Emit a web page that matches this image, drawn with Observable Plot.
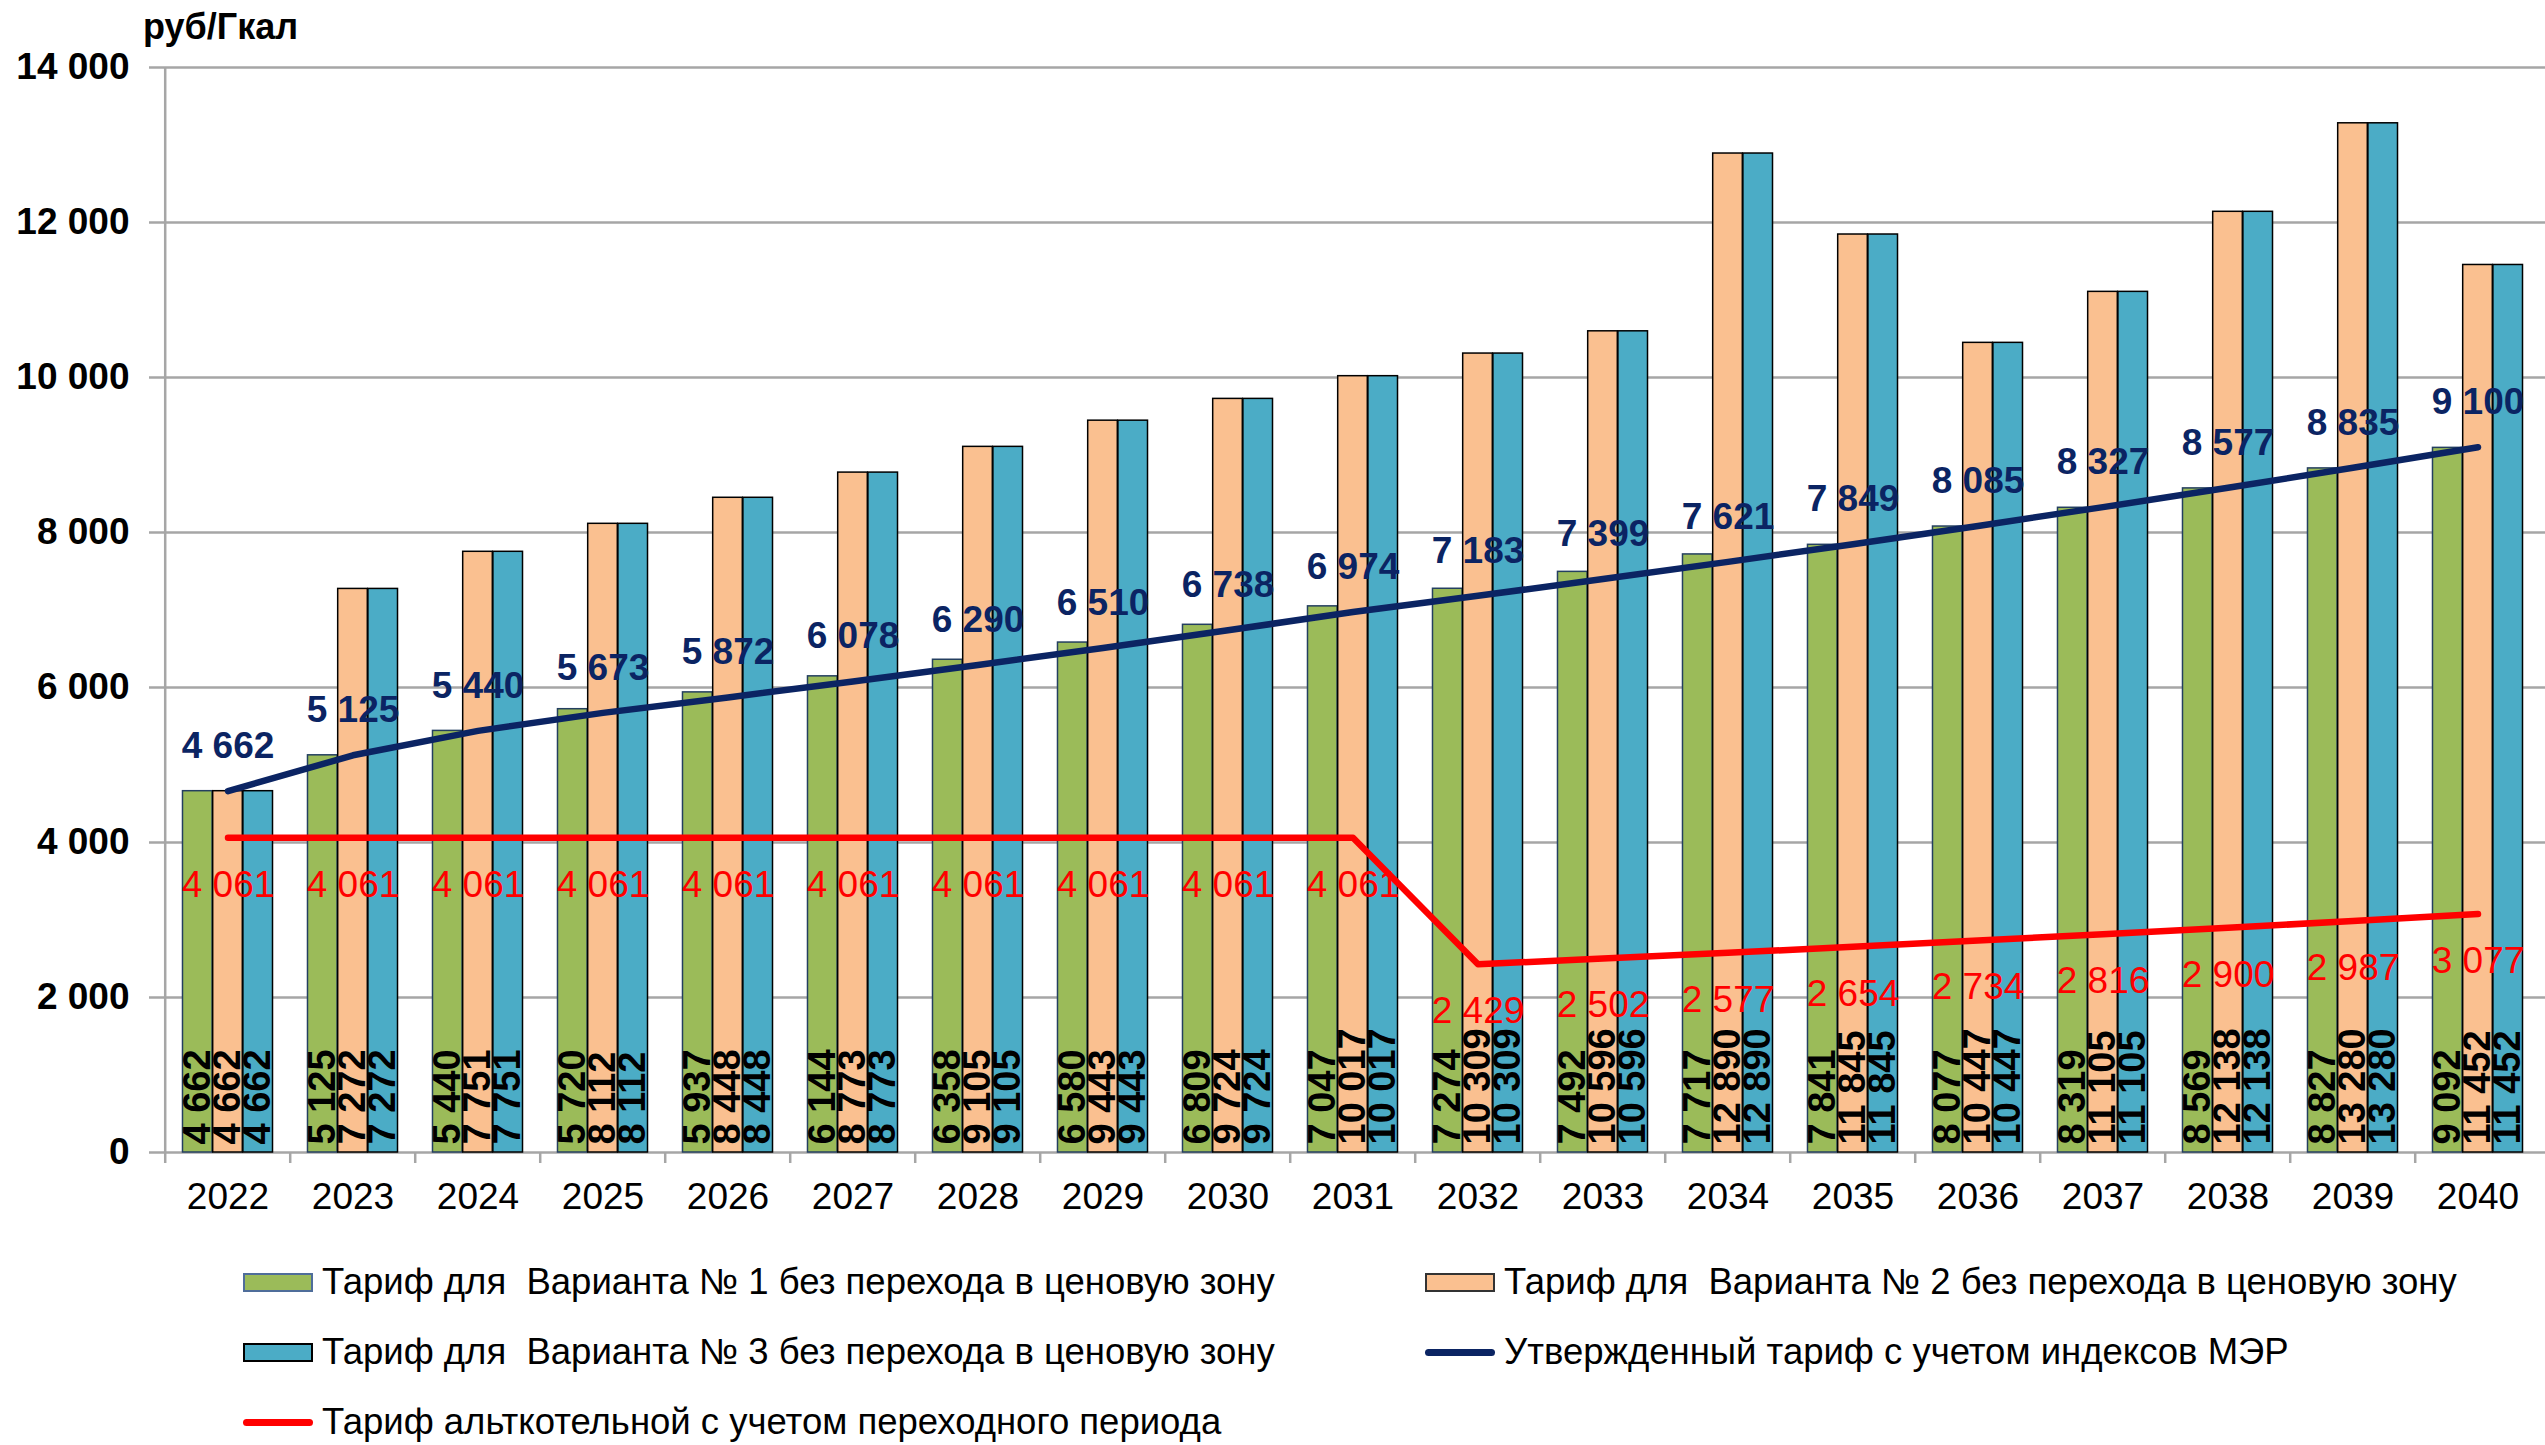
<!DOCTYPE html>
<html>
<head>
<meta charset="utf-8">
<script src="https://cdn.jsdelivr.net/npm/d3@7"></script>
<script src="https://cdn.jsdelivr.net/npm/@observablehq/plot@0.6"></script>
<style>
html, body { margin: 0; padding: 0; background: #fff; overflow: hidden; }
body { width: 2545px; height: 1445px; font-family: "Liberation Sans", Arial, sans-serif; color: #000; }
#unit { height: 44px; position: relative; }
#unit span { position: absolute; left: 143px; top: 9px; font-weight: bold; font-size: 36px; line-height: 36px; }
#chart svg { display: block; overflow: visible; }
#legend { display: grid; grid-template-columns: 1182px 1100px; grid-auto-rows: 70px; padding-left: 243px; padding-top: 23px; }
.item { display: flex; align-items: center; font-size: 36.5px; white-space: pre; }
.sw { width: 70px; height: 19px; box-sizing: border-box; margin-right: 9px; flex: none; }
.ln { width: 70px; height: 7px; border-radius: 4px; margin-right: 9px; flex: none; }
</style>
</head>
<body>
<div id="unit"><span>руб/Гкал</span></div>
<div id="chart"></div>
<div id="legend"></div>
<script>
// ---- data ----
const years = ["2022","2023","2024","2025","2026","2027","2028","2029","2030","2031","2032","2033","2034","2035","2036","2037","2038","2039","2040"];
const variant1 = [4662,5125,5440,5720,5937,6144,6358,6580,6809,7047,7274,7492,7717,7841,8077,8319,8569,8827,9092];
const variant2 = [4662,7272,7751,8112,8448,8773,9105,9443,9724,10017,10309,10596,12890,11845,10447,11105,12138,13280,11452];
const variant3 = [4662,7272,7751,8112,8448,8773,9105,9443,9724,10017,10309,10596,12890,11845,10447,11105,12138,13280,11452];
const approved = [4662,5125,5440,5673,5872,6078,6290,6510,6738,6974,7183,7399,7621,7849,8085,8327,8577,8835,9100];
const altBoiler = [4061,4061,4061,4061,4061,4061,4061,4061,4061,4061,2429,2502,2577,2654,2734,2816,2900,2987,3077];
const yTicks = [0,2000,4000,6000,8000,10000,12000,14000];
const seriesNames = [
  "Тариф для  Варианта № 1 без перехода в ценовую зону",
  "Тариф для  Варианта № 2 без перехода в ценовую зону",
  "Тариф для  Варианта № 3 без перехода в ценовую зону",
  "Утвержденный тариф с учетом индексов МЭР",
  "Тариф альткотельной с учетом переходного периода"
];

// ---- styling ----
const C1 = "#9BBB59", C2 = "#FAC090", C3 = "#4BACC6", NAVY = "#0b2463", RED = "#FF0000", GRID = "#a6a6a6";
const W = 2545, H = 1180, ML = 159, MR = 0, MT = 23, MB = 72;
const step = (W - ML - MR) / years.length;
const bw = 30.2, outer = (step - 3 * bw) / 2;
const fmt = d3.formatLocale({decimal: ",", thousands: " ", grouping: [3], currency: ["", ""]}).format(",d");

const yr = (d, i) => years[i];
const val = d => d;

function bars(arr, fill, stroke, insL, insR) {
  return Plot.barY(arr, {x: yr, y: val, fill, stroke, strokeWidth: 1.5, insetLeft: insL, insetRight: insR});
}
function barLabels(arr, dx) {
  return Plot.text(arr, {x: yr, y: 0, text: d => fmt(d), rotate: -90, textAnchor: "start", lineAnchor: "middle",
    dx, dy: -8, fontSize: 38, fontWeight: "bold", fill: "#000"});
}

const chart = Plot.plot({
  width: W, height: H, marginLeft: ML, marginRight: MR, marginTop: MT, marginBottom: MB,
  style: {fontFamily: '"Liberation Sans", Arial, sans-serif', background: "#fff", overflow: "visible"},
  x: {type: "band", domain: years, padding: 0},
  y: {domain: [0, 14000]},
  marks: [
    Plot.ruleY(yTicks, {stroke: GRID, strokeWidth: 2.5}),
    Plot.ruleX(years, {x: d => d, dx: -step / 2, y1: 0, y2: 0, insetBottom: -11, stroke: GRID, strokeWidth: 2.5}),
    Plot.ruleX([years[0]], {x: d => d, dx: -step / 2, y1: 0, y2: 14000, stroke: GRID, strokeWidth: 2.5}),
    Plot.axisY({ticks: yTicks, tickSize: 10, tickPadding: 20, tickFormat: fmt, label: null,
      stroke: GRID, strokeWidth: 2.5, fill: "#000", fontSize: 37, fontWeight: "bold"}),
    Plot.axisX({tickSize: 0, tickPadding: 30, label: null, fill: "#000", fontSize: 37}),
    bars(variant1, C1, "#243f60", outer, outer + 2 * bw),
    bars(variant2, C2, "#000", outer + bw, outer + bw),
    bars(variant3, C3, "#000", outer + 2 * bw, outer),
    barLabels(variant1, -bw),
    barLabels(variant2, 0),
    barLabels(variant3, bw),
    Plot.text(altBoiler, {x: yr, y: val, text: d => fmt(d), dy: 47, fontSize: 37, fill: RED, lineAnchor: "middle"}),
    Plot.line(altBoiler, {x: yr, y: val, stroke: RED, strokeWidth: 6.5, strokeLinecap: "round", strokeLinejoin: "round"}),
    Plot.line(approved, {x: yr, y: val, stroke: NAVY, strokeWidth: 6.5, strokeLinecap: "round", strokeLinejoin: "round"}),
    Plot.text(approved, {x: yr, y: val, text: d => fmt(d), dy: -45, fontSize: 37, fontWeight: "bold", fill: NAVY, lineAnchor: "middle"})
  ]
});
document.getElementById("chart").appendChild(chart);

// ---- legend ----
const legendItems = [
  {name: seriesNames[0], kind: "rect", fill: C1, stroke: "#4f6d9a"},
  {name: seriesNames[1], kind: "rect", fill: C2, stroke: "#333"},
  {name: seriesNames[2], kind: "rect", fill: C3, stroke: "#000"},
  {name: seriesNames[3], kind: "line", fill: NAVY},
  {name: seriesNames[4], kind: "line", fill: RED}
];
const leg = document.getElementById("legend");
for (const it of legendItems) {
  const div = document.createElement("div");
  div.className = "item";
  const sw = document.createElement("span");
  if (it.kind === "rect") { sw.className = "sw"; sw.style.background = it.fill; sw.style.border = "2px solid " + it.stroke; }
  else { sw.className = "ln"; sw.style.background = it.fill; }
  div.appendChild(sw);
  const t = document.createElement("span");
  t.textContent = it.name;
  div.appendChild(t);
  leg.appendChild(div);
}
</script>
</body>
</html>
